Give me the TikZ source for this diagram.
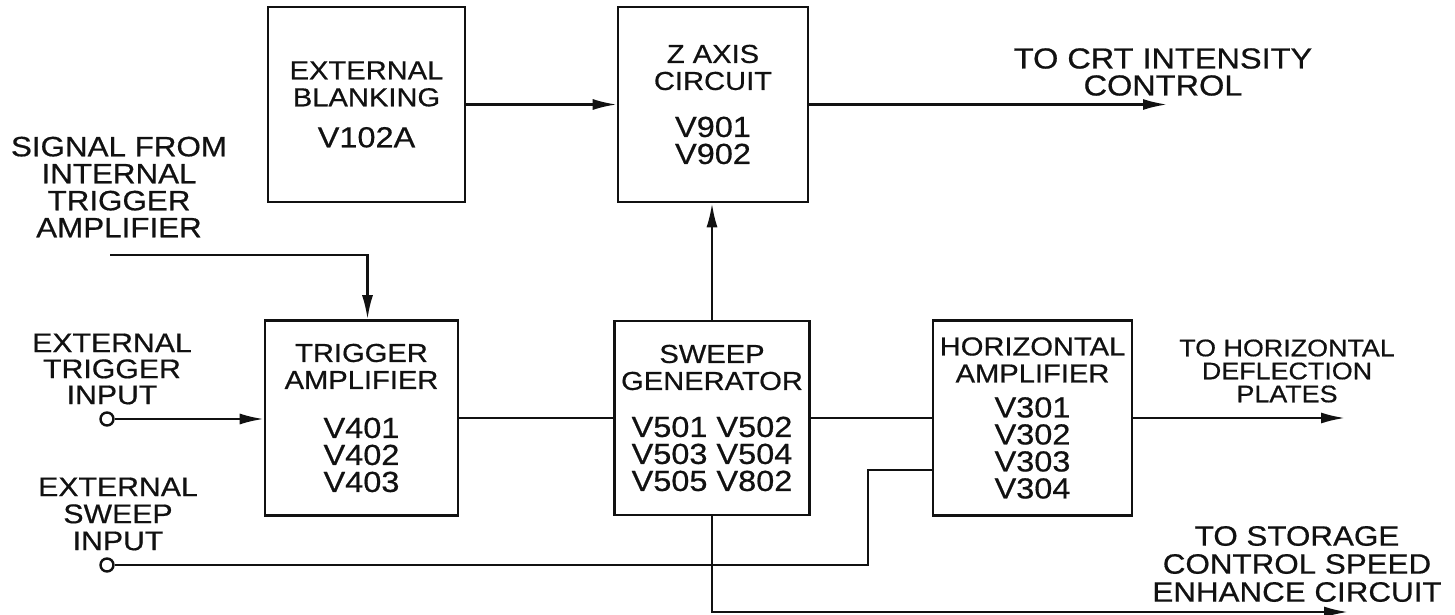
\documentclass[tikz,border=0pt]{standalone}
\usepackage{fontspec}
\setmainfont{Liberation Sans}[FakeStretch=1.12, FakeBold=0.6]
\definecolor{InkBlack}{RGB}{17, 17, 17}
\usepackage{tikz}
\usetikzlibrary{arrows.meta, positioning, calc}
\newcommand{\tubesize}{\fontsize{29}{27}\selectfont}
\tikzset{
  unitbox/.style={draw=InkBlack, line width=2.6pt, inner sep=0pt, align=center,
    font=\fontsize{26}{27}\selectfont, text=InkBlack},
  note/.style={align=center, inner sep=0pt, text=InkBlack},
  jack/.style={draw=InkBlack, circle, line width=2.4pt, minimum size=13pt, inner sep=0pt},
  sigline/.style={draw=InkBlack, line width=2.3pt},
  sigarrow/.style={sigline, -{Latex[length=24pt, width=11pt]}}
}

\begin{document}
\begin{tikzpicture}[x=1pt, y=-1pt]
    \useasboundingbox (0,0) rectangle (1455,615);

    % blocks
    \node[unitbox, minimum width=197pt, minimum height=195pt] (blank) at (366.5,104.5)
      {EXTERNAL\\BLANKING\\[14pt]\tubesize V102A};
    \node[unitbox, minimum width=190pt, minimum height=195pt] (zaxis) at (713,104.5)
      {Z AXIS\\CIRCUIT\\[20pt]\tubesize V901\\\tubesize V902};
    \node[unitbox, minimum width=193pt, minimum height=195pt] (trig) at (361.5,418)
      {TRIGGER\\AMPLIFIER\\[22pt]\tubesize V401\\\tubesize V402\\\tubesize V403};
    \node[unitbox, minimum width=195pt, minimum height=194pt] (sweep) at (712,418)
      {SWEEP\\GENERATOR\\[20pt]\tubesize V501 V502\\\tubesize V503 V504\\\tubesize V505 V802};
    \node[unitbox, minimum width=199pt, minimum height=195pt] (horiz) at (1032.5,418)
      {HORIZONTAL\\AMPLIFIER\\[8pt]\tubesize V301\\\tubesize V302\\\tubesize V303\\\tubesize V304};

    % inputs and labels
    \node[jack] (trigin) at (107,419) {};
    \node[jack] (sweepin) at (107,565) {};
    \node[note, font=\fontsize{28}{27}\selectfont] (siglabel) at (119,187)
      {SIGNAL FROM\\INTERNAL\\TRIGGER\\AMPLIFIER};
    \node[note, font=\fontsize{27}{26}\selectfont] (triglabel) at (112,369)
      {EXTERNAL\\TRIGGER\\INPUT};
    \node[note, font=\fontsize{27}{27}\selectfont] (sweeplabel) at (118,514)
      {EXTERNAL\\SWEEP\\INPUT};
    \node[note, font=\fontsize{29}{27}\selectfont] (crtlabel) at (1163,72)
      {TO CRT INTENSITY\\CONTROL};
    \node[note, font=\fontsize{24}{23}\selectfont] (deflabel) at (1287,371)
      {TO HORIZONTAL\\DEFLECTION\\PLATES};
    \node[note, font=\fontsize{28}{28}\selectfont] (storelabel) at (1297,564)
      {TO STORAGE\\CONTROL SPEED\\ENHANCE CIRCUIT};

    % free ends
    \coordinate (sigstart) at (110,255);
    \coordinate (crtout) at (1167,104.5);
    \coordinate (defout) at (1345,418);
    \coordinate (storeout) at (1348,612);
    \coordinate (sweepjog) at (868,470);

    % connectors
    \draw[sigarrow] (blank) -- (zaxis);
    \draw[sigarrow] (zaxis) -- (crtout);
    \draw[sigarrow] (sweep.north) -- (sweep.north |- zaxis.south);
    \draw[sigarrow] (sigstart) -| ([xshift=6pt]trig.north);
    \draw[sigarrow] (trigin) -- (trigin -| trig.west);
    \draw[sigline] (trig) -- (sweep);
    \draw[sigline] (sweep) -- (horiz);
    \draw[sigarrow] (horiz) -- (defout);
    \draw[sigline] (sweepin) -| (sweepjog) -- (sweepjog -| horiz.west);
    \draw[sigarrow] (sweep.south) |- (storeout);
  \end{tikzpicture}
\end{document}
